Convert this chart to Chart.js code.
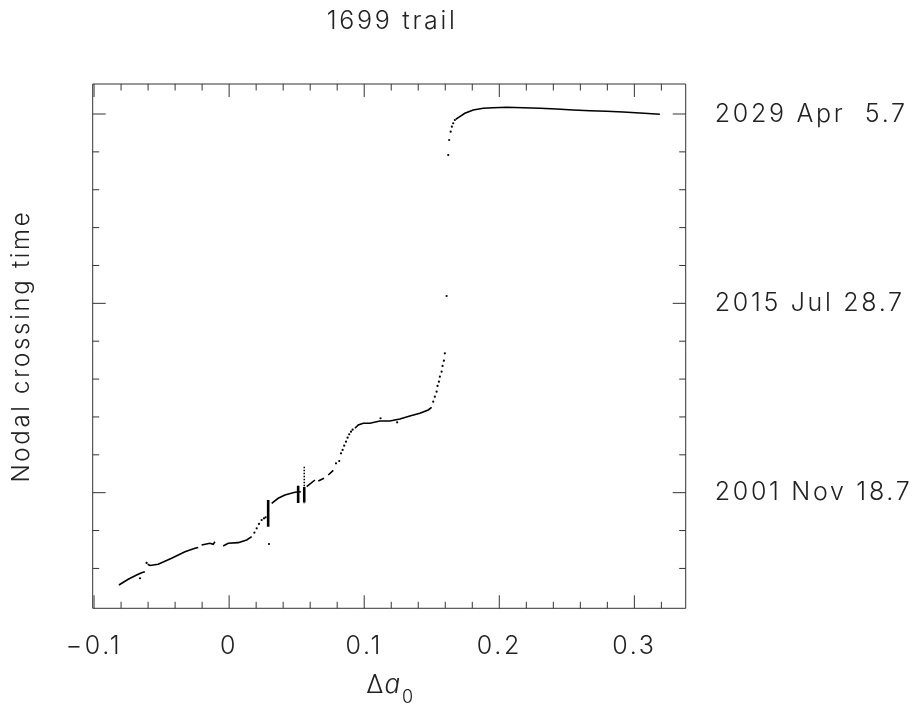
<!DOCTYPE html>
<html>
<head>
<meta charset="utf-8">
<script src="https://cdn.jsdelivr.net/npm/chart.js@4.4.1/dist/chart.umd.min.js"></script>
<style>
  html, body { margin: 0; padding: 0; background: #fff; }
</style>
</head>
<body>
<canvas id="chart" width="921" height="708"></canvas>
<script>
  /* ---- text ---- */
  const TITLE = "1699 trail";
  const Y_TITLE = "Nodal crossing time";

  /* ---- ticks (y values are days after 2001 Nov 18.7) ---- */
  const xTicks = [-0.1, 0, 0.1, 0.2, 0.3];
  const xTickLabels = ["\u22120.1", "0", "0.1", "0.2", "0.3"];
  const xMinor = [-0.08, -0.06, -0.04, -0.02, 0.02, 0.04, 0.06, 0.08, 0.12, 0.14, 0.16, 0.18,
                  0.22, 0.24, 0.26, 0.28, 0.32];
  const yTicks = [0, 5000, 10000];
  const yTickLabels = ["2001 Nov 18.7", "2015 Jul 28.7", "2029 Apr  5.7"];
  const yMinor = [-2000, -1000, 1000, 2000, 3000, 4000, 6000, 7000, 8000, 9000];

  /* ---- trail: dense runs of the curve (null = gap) ---- */
  const trailX = [-0.0816, -0.0747, -0.0685, -0.0648, -0.0624, null,
                  -0.0603, -0.0586, -0.0525, -0.0426, -0.0327, -0.0253, -0.0229, null,
                  -0.0204, -0.0142, -0.0118, -0.0105, null,
                  -0.0044, -0.0007, 0.0067, 0.0130, 0.0167, null,
                  0.0315, 0.0363, 0.0413, 0.0487, 0.0531, null,
                  0.0574, 0.0635, null,
                  0.0660, 0.0702, null,
                  0.0734, 0.0771, null,
                  0.0931, 0.0956, 0.0993, 0.1042, 0.1116, 0.1190, 0.1264, 0.1338, 0.1412, 0.1474, 0.1499, null,
                  0.1678, 0.1696, 0.1745, 0.1807, 0.1881, 0.1955, 0.2054, 0.2177, 0.2301, 0.2424,
                  0.2547, 0.2671, 0.2794, 0.2917, 0.3041, 0.3189];
  const trailY = [-2437, -2287, -2173, -2113, -2086, null,
                  -1891, -1922, -1891, -1732, -1558, -1468, -1447, null,
                  -1381, -1336, -1363, -1294, null,
                  -1407, -1336, -1320, -1249, -1162, null,
                  -280, -148, -61, 11, 26, null,
                  158, 335, null,
                  309, 380, null,
                  467, 591, null,
                  1701, 1788, 1833, 1833, 1893, 1893, 1946, 2025, 2097, 2184, 2255, null,
                  9860, 9902, 10018, 10106, 10151, 10166, 10177, 10166, 10151, 10132,
                  10106, 10087, 10071, 10053, 10026, 9992];

  /* ---- isolated dots ---- */
  const dotX = [-0.0660, -0.0611, 0.0187, 0.0204, 0.0221, 0.0241, 0.0258, 0.0270, 0.0295,
                0.0791, 0.0815, 0.0828, 0.0840, 0.0852, 0.0865, 0.0877, 0.0889, 0.0902, 0.0914,
                0.1121, 0.1244, 0.1511, 0.1523, 0.1536, 0.1543, 0.1553, 0.1560, 0.1573, 0.1580,
                0.1590, 0.1597, 0.1610, 0.1622, 0.1629, 0.1640, 0.1649, 0.1659, 0.1671];
  const dotY = [-2260, -1854, -1056, -940, -826, -721, -676, -650, -1355,
                776, 837, 1040, 1128, 1241, 1347, 1452, 1542, 1611, 1664,
                1965, 1859, 2403, 2535, 2667, 2818, 2931, 3063, 3195, 3346,
                3486, 3681, 5194, 8917, 9313, 9533, 9665, 9755, 9842];

  /* ---- vertical scatter clumps ---- */
  const clumpX = [0.0289, 0.0289, null, 0.0511, 0.0511, null, 0.0556, 0.0556];
  const clumpY = [-193, -898, null, 180, -272, null, 150, -260];
  const spikeX = [0.0556, 0.0556];
  const spikeY = [687, -280];

  const FONT = "Inter, 'DejaVu Sans', sans-serif";
  const INK = "#222";
  const SPACING = "2.7px";

  function pts(xs, ys) {
    return xs.map((x, i) => ({ x: x, y: ys[i] }));
  }

  /* ---- wider letter spacing, like the plotter font ---- */
  const spacingPlugin = {
    id: "spacingPlugin",
    beforeDraw(chart) { chart.ctx.letterSpacing = SPACING; }
  };

  /* ---- frame, inward ticks, title and x label ---- */
  const framePlugin = {
    id: "framePlugin",
    afterDraw(chart) {
      const { ctx, chartArea: a, scales } = chart;
      const x = scales.x, y = scales.y;
      ctx.save();
      ctx.strokeStyle = "#333";
      ctx.lineWidth = 1;
      ctx.beginPath();
      ctx.rect(a.left, a.top, a.right - a.left, a.bottom - a.top);
      function seg(x1, y1, x2, y2) { ctx.moveTo(x1, y1); ctx.lineTo(x2, y2); }
      xTicks.forEach(v => { const p = x.getPixelForValue(v); seg(p, a.bottom, p, a.bottom - 13); seg(p, a.top, p, a.top + 13); });
      xMinor.forEach(v => { const p = x.getPixelForValue(v); seg(p, a.bottom, p, a.bottom - 6.5); seg(p, a.top, p, a.top + 6.5); });
      yTicks.forEach(v => { const p = y.getPixelForValue(v); seg(a.left, p, a.left + 13, p); seg(a.right, p, a.right - 13, p); });
      yMinor.forEach(v => { const p = y.getPixelForValue(v); seg(a.left, p, a.left + 6.5, p); seg(a.right, p, a.right - 6.5, p); });
      ctx.stroke();

      ctx.letterSpacing = SPACING;
      ctx.fillStyle = INK;
      ctx.textAlign = "center";
      ctx.textBaseline = "alphabetic";
      const cx = (a.left + a.right) / 2;
      ctx.font = "300 25px " + FONT;
      ctx.fillText(TITLE, cx + 3, 29);

      // Δa0 with italic a and subscript 0
      ctx.textAlign = "left";
      ctx.letterSpacing = "0px";
      ctx.font = "300 26px " + FONT;
      const wD = ctx.measureText("\u0394").width + 1;
      ctx.font = "italic 300 26px " + FONT;
      const wA = ctx.measureText("a").width + 1;
      ctx.font = "300 18px " + FONT;
      const w0 = ctx.measureText("0").width;
      let sx = cx - (wD + wA + w0) / 2;
      ctx.font = "300 26px " + FONT;
      ctx.fillText("\u0394", sx, 693);
      sx += wD;
      ctx.font = "italic 300 26px " + FONT;
      ctx.fillText("a", sx, 693);
      sx += wA;
      ctx.font = "300 18px " + FONT;
      ctx.fillText("0", sx + 1, 703);
      ctx.restore();
    }
  };

  const tickFont = { family: FONT, size: 25, weight: 300 };

  new Chart(document.getElementById("chart"), {
    type: "scatter",
    data: {
      datasets: [
        { data: pts(trailX, trailY), showLine: true, spanGaps: false, borderColor: "#000",
          borderWidth: 1.6, pointRadius: 0 },
        { data: pts(dotX, dotY), showLine: false, pointRadius: 1.1, backgroundColor: "#000",
          borderWidth: 0 },
        { data: pts(clumpX, clumpY), showLine: true, spanGaps: false, borderColor: "#000",
          borderWidth: 2.6, pointRadius: 0 },
        { data: pts(spikeX, spikeY), showLine: true, borderColor: "#000",
          borderWidth: 1.5, borderDash: [1.5, 1.5], pointRadius: 0 }
      ]
    },
    options: {
      responsive: false,
      animation: false,
      layout: { padding: { top: 84, left: 0, right: 0, bottom: 0 } },
      plugins: { legend: { display: false }, tooltip: { enabled: false }, title: { display: false } },
      scales: {
        x: {
          type: "linear", position: "bottom", min: -0.101, max: 0.338,
          grid: { display: false }, border: { display: false },
          afterBuildTicks: s => { s.ticks = xTicks.map(v => ({ value: v })); },
          ticks: { callback: (v, i) => xTickLabels[i], autoSkip: false, maxRotation: 0,
                   padding: 15, color: INK, font: tickFont },
          afterFit: s => { s.height = 99.7; }
        },
        y: {
          type: "linear", position: "left", min: -3053, max: 10792,
          grid: { display: false }, border: { display: false },
          ticks: { display: false },
          title: { display: true, text: Y_TITLE, color: INK, font: { family: FONT, size: 24, weight: 300 },
                   padding: { top: 7, bottom: 0 } },
          afterFit: s => { s.width = 92.7; }
        },
        y2: {
          type: "linear", position: "right", min: -3053, max: 10792,
          grid: { display: false }, border: { display: false },
          afterBuildTicks: s => { s.ticks = yTicks.map(v => ({ value: v })); },
          ticks: { callback: (v, i) => yTickLabels[i], padding: 21, color: INK, font: tickFont },
          afterFit: s => { s.width = 235.3; }
        }
      }
    },
    plugins: [spacingPlugin, framePlugin]
  });
</script>
</body>
</html>
